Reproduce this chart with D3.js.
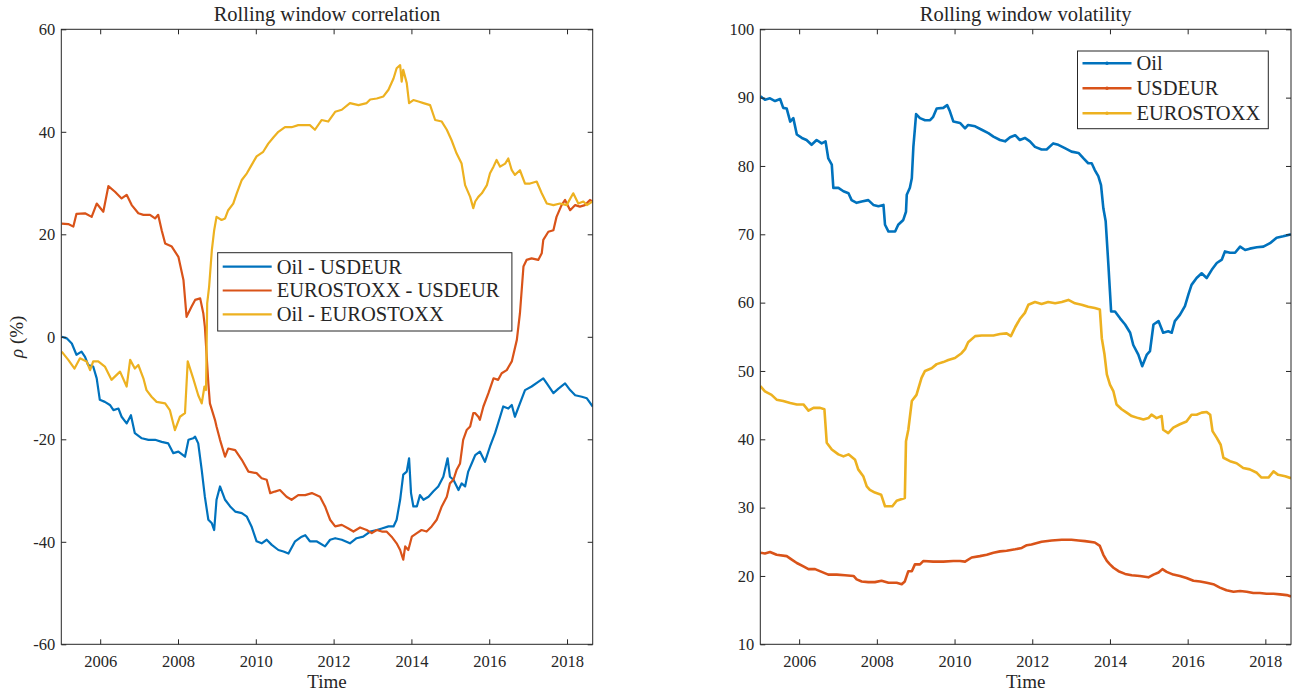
<!DOCTYPE html>
<html><head><meta charset="utf-8">
<script src="https://cdn.jsdelivr.net/npm/d3@7"></script>
<style>
body{margin:0;background:#fff}
svg{display:block}
text{font-family:"Liberation Serif","Times New Roman",serif;fill:#262626}
</style>
</head><body>
<svg id="chart" width="1292" height="695"></svg>
<script>
// ---------- data ----------
const timeDomain = [2005.0, 2018.66];
const yearTicks = [2006, 2008, 2010, 2012, 2014, 2016, 2018];
const corrTicks = [-60, -40, -20, 0, 20, 40, 60];
const volTicks = [10, 20, 30, 40, 50, 60, 70, 80, 90, 100];
const corrNames = ["Oil - USDEUR", "EUROSTOXX - USDEUR", "Oil - EUROSTOXX"];
const volNames = ["Oil", "USDEUR", "EUROSTOXX"];
const seriesColors = ["#0072BD", "#D95319", "#EDB120"];

const corrOilUsd = [[2005.01,0.0],[2005.14,-0.3],[2005.27,-1.3],[2005.39,-3.5],[2005.52,-2.9],[2005.61,-3.9],[2005.69,-5.5],[2005.82,-5.8],[2005.91,-8.1],[2005.99,-12.3],[2006.12,-12.7],[2006.25,-13.3],[2006.34,-14.3],[2006.47,-14.0],[2006.55,-15.6],[2006.68,-16.9],[2006.79,-15.3],[2006.89,-18.8],[2007.07,-19.8],[2007.24,-20.1],[2007.41,-20.1],[2007.58,-20.5],[2007.75,-20.8],[2007.88,-22.7],[2008.01,-22.4],[2008.18,-23.4],[2008.27,-20.1],[2008.39,-19.8],[2008.44,-19.5],[2008.52,-20.8],[2008.61,-26.0],[2008.69,-31.2],[2008.78,-35.7],[2008.87,-36.4],[2008.93,-37.7],[2008.99,-31.8],[2009.08,-29.2],[2009.21,-31.8],[2009.34,-33.1],[2009.47,-34.1],[2009.64,-34.4],[2009.77,-35.1],[2009.89,-37.0],[2010.02,-39.9],[2010.15,-40.3],[2010.28,-39.6],[2010.41,-40.6],[2010.58,-41.6],[2010.71,-41.9],[2010.84,-42.3],[2011.01,-39.9],[2011.18,-39.0],[2011.27,-38.7],[2011.39,-39.9],[2011.56,-39.9],[2011.78,-40.9],[2011.91,-39.6],[2012.04,-39.3],[2012.21,-39.6],[2012.42,-40.3],[2012.59,-39.3],[2012.76,-39.0],[2012.94,-38.0],[2013.11,-37.7],[2013.24,-37.4],[2013.41,-37.0],[2013.54,-37.0],[2013.62,-35.7],[2013.71,-31.8],[2013.79,-26.9],[2013.88,-26.3],[2013.94,-23.7],[2013.99,-30.5],[2014.05,-33.1],[2014.14,-33.1],[2014.22,-30.9],[2014.31,-31.8],[2014.44,-31.2],[2014.56,-30.2],[2014.69,-29.2],[2014.82,-27.3],[2014.93,-23.7],[2014.99,-27.3],[2015.08,-27.9],[2015.21,-29.9],[2015.29,-28.6],[2015.38,-29.2],[2015.46,-26.3],[2015.59,-24.0],[2015.64,-23.1],[2015.76,-22.4],[2015.89,-24.4],[2016.02,-21.4],[2016.15,-18.8],[2016.28,-15.6],[2016.36,-13.6],[2016.49,-14.0],[2016.58,-13.3],[2016.66,-15.6],[2016.79,-13.0],[2016.92,-10.4],[2017.09,-9.7],[2017.26,-8.8],[2017.39,-8.1],[2017.48,-9.1],[2017.65,-11.0],[2017.78,-10.1],[2017.95,-9.1],[2018.08,-10.4],[2018.21,-11.4],[2018.38,-11.7],[2018.51,-12.0],[2018.66,-13.6]];

const corrStoxxUsd = [[2005.01,22.1],[2005.18,22.0],[2005.31,21.5],[2005.39,24.0],[2005.61,24.1],[2005.78,23.4],[2005.91,26.0],[2006.08,24.4],[2006.21,29.4],[2006.38,28.3],[2006.55,27.0],[2006.68,27.7],[2006.81,25.7],[2006.98,24.1],[2007.11,23.8],[2007.28,23.8],[2007.41,23.1],[2007.49,23.8],[2007.58,20.8],[2007.67,18.2],[2007.84,17.6],[2008.01,15.6],[2008.14,11.1],[2008.22,3.9],[2008.35,5.9],[2008.44,7.2],[2008.57,7.5],[2008.65,4.6],[2008.69,2.0],[2008.78,-9.1],[2008.82,-13.0],[2008.95,-16.2],[2008.99,-17.5],[2009.08,-20.1],[2009.21,-23.4],[2009.29,-21.8],[2009.47,-22.1],[2009.64,-24.0],[2009.81,-26.3],[2010.02,-26.6],[2010.15,-27.6],[2010.28,-27.9],[2010.37,-30.5],[2010.49,-30.2],[2010.62,-29.9],[2010.79,-31.2],[2010.92,-31.8],[2011.09,-30.9],[2011.27,-30.9],[2011.44,-30.5],[2011.65,-31.2],[2011.78,-33.1],[2011.91,-35.7],[2012.04,-37.0],[2012.21,-36.7],[2012.38,-37.4],[2012.51,-38.0],[2012.68,-37.2],[2012.85,-37.7],[2012.98,-38.3],[2013.11,-37.7],[2013.24,-38.0],[2013.36,-38.0],[2013.49,-39.0],[2013.62,-40.3],[2013.71,-41.6],[2013.79,-43.5],[2013.84,-40.9],[2013.92,-41.6],[2014.01,-39.0],[2014.14,-38.3],[2014.26,-37.7],[2014.39,-38.0],[2014.52,-37.0],[2014.65,-35.7],[2014.78,-33.1],[2014.91,-31.2],[2014.99,-28.6],[2015.08,-27.9],[2015.16,-26.0],[2015.25,-24.7],[2015.33,-20.1],[2015.42,-18.2],[2015.51,-17.5],[2015.59,-14.9],[2015.64,-14.9],[2015.72,-15.6],[2015.76,-16.2],[2015.85,-13.6],[2015.98,-11.0],[2016.11,-8.1],[2016.23,-8.4],[2016.32,-7.1],[2016.45,-6.5],[2016.58,-4.8],[2016.71,-0.6],[2016.79,4.6],[2016.88,13.7],[2016.96,15.0],[2017.09,15.3],[2017.26,15.0],[2017.35,16.3],[2017.39,18.9],[2017.52,20.5],[2017.65,20.8],[2017.73,23.4],[2017.86,25.7],[2017.95,26.7],[2018.08,24.7],[2018.21,25.7],[2018.33,25.4],[2018.46,25.7],[2018.59,26.7],[2018.66,26.4]];

const corrOilStoxx = [[2005.01,-2.9],[2005.18,-4.5],[2005.34,-6.2],[2005.48,-4.2],[2005.65,-4.8],[2005.74,-6.5],[2005.82,-4.8],[2005.95,-4.8],[2006.12,-5.8],[2006.29,-8.4],[2006.51,-6.8],[2006.68,-9.7],[2006.77,-4.5],[2006.89,-6.2],[2006.98,-5.5],[2007.11,-8.1],[2007.19,-10.4],[2007.32,-11.7],[2007.45,-12.7],[2007.67,-13.0],[2007.79,-14.3],[2007.92,-18.2],[2008.05,-15.6],[2008.18,-14.9],[2008.25,-4.8],[2008.39,-8.1],[2008.52,-11.4],[2008.61,-13.0],[2008.68,-9.7],[2008.72,-10.4],[2008.75,6.5],[2008.80,9.8],[2008.87,16.9],[2008.93,20.8],[2008.99,23.4],[2009.12,22.8],[2009.21,23.1],[2009.29,24.7],[2009.42,26.0],[2009.51,28.0],[2009.64,30.6],[2009.77,31.9],[2009.89,33.5],[2010.02,35.2],[2010.19,36.1],[2010.32,37.7],[2010.45,38.9],[2010.58,40.0],[2010.75,40.9],[2010.92,40.9],[2011.09,41.3],[2011.27,41.3],[2011.39,41.3],[2011.52,40.4],[2011.69,42.3],[2011.86,42.0],[2012.04,43.9],[2012.21,44.3],[2012.42,45.6],[2012.64,45.2],[2012.85,45.6],[2012.94,46.3],[2013.11,46.5],[2013.28,46.9],[2013.41,48.2],[2013.54,50.4],[2013.62,52.4],[2013.71,53.0],[2013.75,49.8],[2013.79,52.1],[2013.88,49.5],[2013.94,45.6],[2014.05,46.2],[2014.18,45.9],[2014.31,45.6],[2014.48,45.2],[2014.61,42.3],[2014.78,42.0],[2014.91,40.4],[2015.03,38.4],[2015.16,35.8],[2015.29,33.8],[2015.38,29.6],[2015.51,27.3],[2015.59,25.1],[2015.64,26.4],[2015.72,27.3],[2015.81,28.0],[2015.94,29.6],[2016.02,31.9],[2016.11,33.2],[2016.19,34.5],[2016.28,33.2],[2016.41,33.8],[2016.49,34.8],[2016.58,32.5],[2016.66,31.6],[2016.79,32.5],[2016.92,29.9],[2017.05,29.9],[2017.22,30.3],[2017.35,28.0],[2017.48,26.0],[2017.65,25.7],[2017.82,26.0],[2017.99,25.7],[2018.16,28.0],[2018.29,26.0],[2018.42,26.4],[2018.51,25.7],[2018.66,26.4]];

const volOil = [[2005.00,90.2],[2005.12,89.7],[2005.25,89.9],[2005.38,89.5],[2005.51,89.8],[2005.59,88.5],[2005.68,88.4],[2005.77,86.5],[2005.85,87.0],[2005.94,84.6],[2006.07,84.1],[2006.19,83.8],[2006.32,83.1],[2006.45,83.8],[2006.58,83.3],[2006.68,83.6],[2006.75,81.1],[2006.84,80.2],[2006.88,76.8],[2007.01,76.8],[2007.14,76.3],[2007.27,76.0],[2007.35,75.0],[2007.48,74.6],[2007.61,74.8],[2007.78,75.0],[2007.91,74.3],[2008.04,74.1],[2008.17,74.3],[2008.21,71.4],[2008.30,70.4],[2008.47,70.4],[2008.55,71.4],[2008.68,72.1],[2008.75,73.3],[2008.77,75.8],[2008.85,76.8],[2008.90,78.2],[2008.94,82.8],[2008.98,85.5],[2009.01,87.6],[2009.11,87.0],[2009.24,86.7],[2009.37,86.7],[2009.45,87.2],[2009.54,88.4],[2009.71,88.5],[2009.81,88.9],[2009.88,88.0],[2009.97,86.5],[2010.14,86.3],[2010.27,85.5],[2010.35,86.0],[2010.53,85.8],[2010.70,85.3],[2010.87,84.8],[2011.00,84.3],[2011.17,83.8],[2011.30,83.6],[2011.43,84.2],[2011.56,84.5],[2011.68,83.8],[2011.81,84.1],[2011.94,83.6],[2012.07,82.8],[2012.24,82.4],[2012.37,82.4],[2012.54,83.3],[2012.67,83.1],[2012.84,82.6],[2013.01,82.1],[2013.19,81.9],[2013.32,81.1],[2013.44,80.4],[2013.53,80.4],[2013.61,79.4],[2013.70,78.5],[2013.77,77.2],[2013.83,73.8],[2013.89,71.9],[2013.96,65.5],[2014.00,61.6],[2014.03,58.7],[2014.13,58.7],[2014.26,57.7],[2014.39,56.8],[2014.52,55.6],[2014.60,53.8],[2014.73,52.4],[2014.83,50.7],[2014.95,52.4],[2015.03,52.9],[2015.12,56.8],[2015.25,57.3],[2015.37,55.6],[2015.50,55.8],[2015.59,55.6],[2015.67,57.3],[2015.80,58.2],[2015.93,59.5],[2016.02,61.2],[2016.10,62.6],[2016.23,63.6],[2016.36,64.3],[2016.49,63.6],[2016.62,64.8],[2016.75,65.8],[2016.88,66.3],[2016.96,67.5],[2017.09,67.3],[2017.22,67.3],[2017.35,68.2],[2017.48,67.7],[2017.60,67.9],[2017.78,68.1],[2017.95,68.2],[2018.12,68.7],[2018.29,69.5],[2018.46,69.7],[2018.66,70.0]];

const volUsdEur = [[2005.00,23.4],[2005.12,23.3],[2005.25,23.5],[2005.42,23.1],[2005.68,22.9],[2005.81,22.4],[2005.94,21.9],[2006.11,21.4],[2006.24,21.0],[2006.41,21.0],[2006.58,20.6],[2006.75,20.2],[2006.97,20.2],[2007.18,20.1],[2007.40,20.0],[2007.48,19.5],[2007.61,19.2],[2007.78,19.1],[2007.95,19.1],[2008.12,19.3],[2008.30,19.0],[2008.51,19.0],[2008.64,18.8],[2008.72,19.2],[2008.81,20.7],[2008.90,20.7],[2008.98,21.7],[2009.11,21.7],[2009.20,22.2],[2009.45,22.1],[2009.71,22.1],[2009.97,22.2],[2010.14,22.2],[2010.27,22.1],[2010.44,22.7],[2010.65,22.9],[2010.83,23.1],[2011.00,23.4],[2011.17,23.6],[2011.34,23.7],[2011.56,23.9],[2011.73,24.1],[2011.86,24.5],[2011.98,24.6],[2012.24,25.0],[2012.50,25.2],[2012.76,25.3],[2013.01,25.3],[2013.19,25.2],[2013.36,25.1],[2013.61,24.9],[2013.74,24.4],[2013.83,23.1],[2013.92,22.2],[2014.00,21.7],[2014.09,21.2],[2014.22,20.7],[2014.39,20.3],[2014.56,20.1],[2014.77,20.0],[2014.99,19.8],[2015.12,20.2],[2015.25,20.5],[2015.35,21.0],[2015.46,20.6],[2015.63,20.2],[2015.80,20.0],[2015.97,19.7],[2016.15,19.3],[2016.32,19.2],[2016.49,19.0],[2016.66,18.8],[2016.83,18.3],[2017.00,17.9],[2017.18,17.7],[2017.35,17.8],[2017.52,17.7],[2017.69,17.5],[2017.86,17.5],[2018.03,17.4],[2018.21,17.4],[2018.38,17.3],[2018.55,17.2],[2018.66,17.0]];

const volStoxx = [[2005.00,47.8],[2005.12,47.0],[2005.29,46.5],[2005.42,45.8],[2005.59,45.6],[2005.77,45.3],[2005.94,45.1],[2006.11,45.1],[2006.24,44.2],[2006.37,44.6],[2006.54,44.6],[2006.65,44.4],[2006.71,39.5],[2006.84,38.5],[2007.01,37.8],[2007.14,37.5],[2007.27,37.8],[2007.44,37.0],[2007.52,35.6],[2007.65,34.6],[2007.74,33.1],[2007.82,32.6],[2007.95,32.2],[2008.11,31.9],[2008.21,30.2],[2008.40,30.2],[2008.51,31.0],[2008.72,31.4],[2008.75,39.7],[2008.81,41.4],[2008.90,45.6],[2009.02,46.5],[2009.15,49.0],[2009.24,50.0],[2009.41,50.4],[2009.54,51.0],[2009.71,51.3],[2009.84,51.6],[2010.01,51.9],[2010.18,52.6],[2010.27,53.2],[2010.35,54.2],[2010.53,55.1],[2010.70,55.2],[2011.00,55.2],[2011.17,55.4],[2011.34,55.5],[2011.45,55.1],[2011.56,56.4],[2011.68,57.6],[2011.81,58.5],[2011.90,59.7],[2012.07,60.1],[2012.24,59.8],[2012.41,60.1],[2012.59,59.9],[2012.76,60.1],[2012.93,60.4],[2013.10,59.9],[2013.27,59.7],[2013.44,59.4],[2013.61,59.2],[2013.74,59.0],[2013.79,54.8],[2013.86,52.4],[2013.92,49.5],[2014.00,48.0],[2014.09,47.0],[2014.17,45.1],[2014.30,44.4],[2014.43,43.9],[2014.56,43.4],[2014.73,43.1],[2014.86,42.9],[2014.99,43.1],[2015.07,43.6],[2015.20,43.1],[2015.33,43.4],[2015.37,41.4],[2015.50,40.9],[2015.63,41.7],[2015.80,42.2],[2015.97,42.6],[2016.10,43.6],[2016.23,43.6],[2016.36,43.9],[2016.49,44.0],[2016.58,43.6],[2016.64,41.2],[2016.75,40.2],[2016.85,39.2],[2016.92,37.3],[2017.09,36.8],[2017.26,36.5],[2017.43,35.8],[2017.60,35.6],[2017.78,35.1],[2017.90,34.4],[2018.08,34.4],[2018.21,35.3],[2018.33,34.8],[2018.51,34.6],[2018.66,34.3]];

// ---------- drawing ----------
const svg = d3.select("#chart");
const AX = "#262626";

function drawPanel(o) {
  const g = svg.append("g");
  const x = d3.scaleLinear().domain(timeDomain).range([o.left, o.right]);
  const y = d3.scaleLinear().domain(o.yDomain).range([o.bottom, o.top]);
  const clipId = "clip" + o.id;
  svg.append("clipPath").attr("id", clipId).append("rect")
    .attr("x", o.left).attr("y", o.top)
    .attr("width", o.right - o.left).attr("height", o.bottom - o.top);

  const line = d3.line().x(d => x(d[0])).y(d => y(d[1]));
  const lines = g.append("g").attr("clip-path", `url(#${clipId})`);
  o.series.forEach((s, i) => {
    lines.append("path").datum(s).attr("d", line)
      .attr("fill", "none").attr("stroke", seriesColors[i])
      .attr("stroke-width", o.lw).attr("stroke-linejoin", "round");
  });

  const fmt = d => String(d);
  const styleAxis = sel => {
    sel.select(".domain").remove();
    sel.selectAll(".tick line").attr("stroke", AX).attr("stroke-width", 1);
    sel.selectAll(".tick text").attr("fill", AX).style("font-size", "16.5px")
      .style("font-family", '"Liberation Serif","Times New Roman",serif');
  };
  g.append("g").attr("transform", `translate(0,${o.bottom})`)
    .call(d3.axisBottom(x).tickValues(yearTicks).tickSize(-5).tickPadding(10.5).tickFormat(fmt)).call(styleAxis);
  g.append("g").attr("transform", `translate(0,${o.top})`)
    .call(d3.axisTop(x).tickValues(yearTicks).tickSize(-5).tickFormat("")).call(styleAxis);
  g.append("g").attr("transform", `translate(${o.left},0)`)
    .call(d3.axisLeft(y).tickValues(o.yTicks).tickSize(-5).tickPadding(6).tickFormat(fmt)).call(styleAxis);
  g.append("g").attr("transform", `translate(${o.right},0)`)
    .call(d3.axisRight(y).tickValues(o.yTicks).tickSize(-5).tickFormat("")).call(styleAxis);

  g.append("rect").attr("x", o.left).attr("y", o.top)
    .attr("width", o.right - o.left).attr("height", o.bottom - o.top)
    .attr("fill", "none").attr("stroke", AX).attr("stroke-width", 1);

  const cx = (o.left + o.right) / 2;
  g.append("text").attr("x", cx).attr("y", 21).attr("text-anchor", "middle")
    .style("font-size", "20.5px").text(o.title);
  g.append("text").attr("x", cx).attr("y", 688).attr("text-anchor", "middle")
    .style("font-size", "19px").text("Time");

  // legend
  const L = o.legend;
  const lg = g.append("g");
  lg.append("rect").attr("x", L.x).attr("y", L.y).attr("width", L.w).attr("height", L.h)
    .attr("fill", "#fff").attr("stroke", AX).attr("stroke-width", 1);
  o.names.forEach((n, i) => {
    const yy = L.y + L.first + i * L.step;
    lg.append("line").attr("x1", L.x + 5).attr("x2", L.x + 54).attr("y1", yy).attr("y2", yy)
      .attr("stroke", seriesColors[i]).attr("stroke-width", o.lw);
    if (L.marker) lg.append("circle").attr("cx", L.x + 29.5).attr("cy", yy).attr("r", 1.8)
      .attr("fill", seriesColors[i]);
    lg.append("text").attr("x", L.x + 59).attr("y", yy).attr("dy", "0.34em")
      .style("font-size", "20.5px").text(n);
  });
  return {x, y};
}

drawPanel({
  id: "a", left: 61.3, right: 592.7, top: 29.3, bottom: 644.3,
  yDomain: [-60, 60], yTicks: corrTicks, lw: 2.2,
  series: [corrOilUsd, corrStoxxUsd, corrOilStoxx],
  names: corrNames, title: "Rolling window correlation",
  legend: {x: 217.7, y: 252.7, w: 294.2, h: 78.3, first: 14, step: 23.8, marker: false}
});
drawPanel({
  id: "b", left: 760.3, right: 1291, top: 29.3, bottom: 644.3,
  yDomain: [10, 100], yTicks: volTicks, lw: 2.6,
  series: [volOil, volUsdEur, volStoxx],
  names: volNames, title: "Rolling window volatility",
  legend: {x: 1077.5, y: 51, w: 190.8, h: 77.7, first: 12.3, step: 25, marker: true}
});

// y label (left panel only)
const yl = svg.append("text").attr("transform", "translate(23,336.8) rotate(-90)")
  .attr("text-anchor", "middle").style("font-size", "19px");
yl.append("tspan").style("font-style", "italic").text("ρ");
yl.append("tspan").text(" (%)");
</script>
</body></html>
